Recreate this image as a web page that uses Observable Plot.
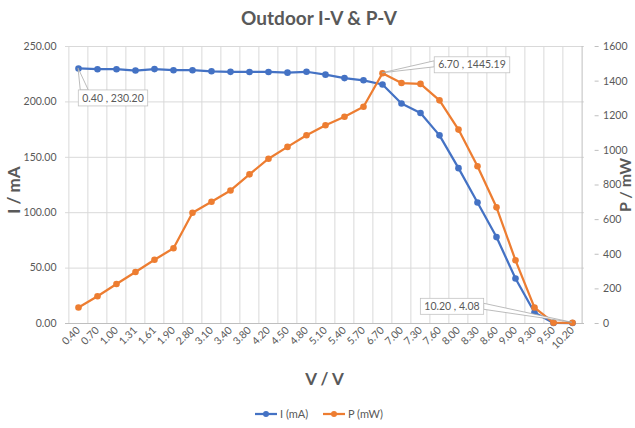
<!DOCTYPE html>
<html>
<head>
<meta charset="utf-8">
<script src="https://cdn.jsdelivr.net/npm/d3@7"></script>
<script src="https://cdn.jsdelivr.net/npm/@observablehq/plot@0.6"></script>
<style>
  html, body { margin: 0; padding: 0; background: #fff; }
  #chart { width: 635px; height: 428px; }
  svg { font-family: Lato, "Open Sans", sans-serif; }
</style>
</head>
<body>
<div id="chart"></div>
<script>
// ---- data ----
const voltages = ["0.40","0.70","1.00","1.31","1.61","1.90","2.80","3.10","3.40","3.80","4.20","4.50","4.80","5.10","5.40","5.70","6.70","7.00","7.30","7.60","8.00","8.30","8.60","9.00","9.30","9.50","10.20"];
const currentMA = [230.20,229.5,229.5,228.3,229.6,228.6,228.6,227.6,227.1,227.0,227.0,226.4,227.2,224.6,221.5,219.5,215.7,198.5,190.0,169.8,140.2,109.2,78.0,40.6,9.9,0.5,0.4];
const powerMW = [92.1,157.7,228.5,297.5,368.5,434.3,639.5,703.0,768.5,861.5,952.0,1020.0,1087.0,1145.0,1194.0,1252.0,1445.19,1389.0,1384.0,1289.0,1120.0,908.0,671.0,365.0,92.0,5.0,4.08];
const leftTicks = [0,50,100,150,200,250];
const rightTicks = [0,200,400,600,800,1000,1200,1400,1600];
const seriesNames = ["I (mA)","P (mW)"];
const labelX = ["0.40","6.70","10.20"];
const labelY = [230.20,1445.19,4.08];
const labelSeries = ["I","P","P"];
const titleText = "Outdoor I-V & P-V";

// ---- layout / style ----
const W = 635, H = 428;
const mL = 65, mR = 51, mT = 46, mB = 105;
const blue = "#4472C4", orange = "#ED7D31", grid = "#d9d9d9", textC = "#595959";
const iMax = 250, pMax = 1600;
const pToI = p => p * iMax / pMax;

const iData = voltages.map((v, k) => ({v, y: currentMA[k]}));
const pData = voltages.map((v, k) => ({v, y: pToI(powerMW[k])}));
const step = (W - mL - mR) / voltages.length;

const plot = Plot.plot({
  width: W, height: H,
  marginLeft: mL, marginRight: mR, marginTop: mT, marginBottom: mB,
  style: {color: textC, fontFamily: "Lato, 'Open Sans', sans-serif", background: "#fff"},
  x: {type: "point", domain: voltages, padding: 0.5},
  y: {domain: [0, iMax]},
  marks: [
    Plot.ruleY(leftTicks, {stroke: grid, strokeWidth: 1}),
    Plot.ruleX(voltages, {stroke: grid, strokeWidth: 1, dx: -step / 2}),
    Plot.ruleX([voltages[voltages.length - 1]], {stroke: "#bfbfbf", strokeWidth: 1, dx: step / 2}),
    Plot.ruleY([0], {stroke: "#bfbfbf", strokeWidth: 1}),
    Plot.axisX({tickRotate: -45, tickSize: 0, tickPadding: 5, fontSize: 10.5, label: null}),
    Plot.axisY(leftTicks, {anchor: "left", tickSize: 0, tickPadding: 9, fontSize: 10.5, tickFormat: d => d.toFixed(2), label: null}),
    Plot.axisY(rightTicks.map(pToI), {anchor: "right", tickSize: 4, tickPadding: 5, stroke: "#bfbfbf", fontSize: 10.5, dx: step / 2, tickFormat: d => String(Math.round(d * pMax / iMax)), label: null}),
    Plot.line(iData, {x: "v", y: "y", stroke: blue, strokeWidth: 2.25}),
    Plot.dot(iData, {x: "v", y: "y", fill: blue, r: 3.3}),
    Plot.line(pData, {x: "v", y: "y", stroke: orange, strokeWidth: 2.25}),
    Plot.dot(pData, {x: "v", y: "y", fill: orange, r: 3.3})
  ]
});
document.getElementById("chart").appendChild(plot);

const svg = d3.select(plot);
const xs = plot.scale("x"), ys = plot.scale("y");

// title & axis titles
svg.append("text").attr("x", 319).attr("y", 25).attr("text-anchor", "middle")
  .attr("font-size", 19).attr("font-weight", "bold").attr("fill", textC).text(titleText);
svg.append("text").attr("x", (mL + W - mR) / 2).attr("y", 385).attr("text-anchor", "middle")
  .attr("font-size", 17).attr("font-weight", "bold").attr("fill", textC).text("V / V");
svg.append("text").attr("transform", "translate(20,190) rotate(-90)").attr("text-anchor", "middle")
  .attr("font-size", 17).attr("font-weight", "bold").attr("fill", textC).text("I / mA");
svg.append("text").attr("transform", "translate(631,185) rotate(-90)").attr("text-anchor", "middle")
  .attr("font-size", 16).attr("font-weight", "bold").attr("fill", textC).text("P / mW");

// data labels
const offsets = [[35, 30], [90, -8], [-120, -16]];
labelX.forEach((lx, k) => {
  const yv = labelSeries[k] === "P" ? pToI(labelY[k]) : labelY[k];
  const px = xs.apply(lx), py = ys.apply(yv);
  const cx = px + offsets[k][0], cy = py + offsets[k][1];
  const g = svg.append("g");
  const t = g.append("text").attr("x", cx).attr("y", cy).attr("text-anchor", "middle")
    .attr("dy", "0.35em").attr("font-size", 10.5).attr("fill", textC)
    .text(`${lx} , ${labelY[k].toFixed(2)}`);
  const bb = t.node().getBBox();
  const bx = bb.x - 4, by = cy - 8, bw = bb.width + 8, bh = 16;
  let wedge;
  if (k === 0) wedge = [[px, py], [bx + 2, by], [bx + 10, by]];
  else if (k === 1) wedge = [[px, py], [bx, by + 4], [bx, by + 10]];
  else wedge = [[px, py], [bx + bw, by + 5], [bx + bw, by + 11]];
  g.insert("path", "text").attr("d", d3.line()(wedge) + "Z").attr("fill", "#fff")
    .attr("stroke", "#a6a6a6").attr("stroke-width", 0.75);
  g.insert("rect", "text").attr("x", bx).attr("y", by).attr("width", bw).attr("height", bh)
    .attr("fill", "#fff").attr("stroke", "#bfbfbf").attr("stroke-width", 0.75);
});

// legend
const legY = 414;
const legItems = [{name: seriesNames[0], color: blue, x0: 255}, {name: seriesNames[1], color: orange, x0: 323}];
legItems.forEach(it => {
  svg.append("line").attr("x1", it.x0).attr("x2", it.x0 + 22).attr("y1", legY).attr("y2", legY)
    .attr("stroke", it.color).attr("stroke-width", 2.25);
  svg.append("circle").attr("cx", it.x0 + 11).attr("cy", legY).attr("r", 3).attr("fill", it.color);
  svg.append("text").attr("x", it.x0 + 25).attr("y", legY).attr("dy", "0.35em")
    .attr("text-anchor", "start")
    .attr("font-size", 11).attr("fill", textC).text(it.name);
});
</script>
</body>
</html>
